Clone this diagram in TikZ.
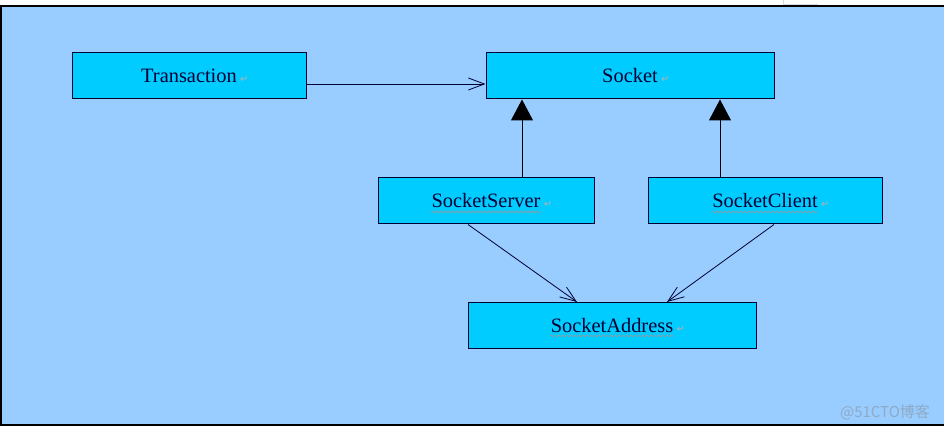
\documentclass[tikz,border=0pt]{standalone}
\usepackage{fontspec}
\setmainfont{Liberation Serif}
\newfontfamily\timesfont{Liberation Serif}[Scale=1.0]
\newfontfamily\symfont{DejaVu Sans}
\newfontfamily\cjkfont{Noto Sans CJK SC}
\usetikzlibrary{arrows.meta,decorations.pathmorphing}

\definecolor{bgblue}{HTML}{99CCFF}
\definecolor{boxcyan}{HTML}{00CCFF}
\definecolor{inkblue}{HTML}{000033}

\newcommand{\retmark}{\rlap{\,\textcolor{gray!60}{\symfont\fontsize{5}{6}\selectfont ↵}}}

\tikzset{
  classbox/.style={draw=inkblue, fill=boxcyan, line width=0.5pt, inner sep=0pt,
    minimum height=23pt, text=inkblue, font=\rmfamily\fontsize{10.2}{12}\selectfont},
  usearrow/.style={draw=inkblue, line width=0.4pt, -{Straight Barb[length=8pt,width=6pt]}},
  inherit/.style={draw=black, line width=0.5pt, -{Triangle[length=10.5pt,width=11pt]}},
  wavy/.style={draw=gray!80, line width=0.35pt, decorate,
    decoration={snake, segment length=2pt, amplitude=0.5pt}}
}

\begin{document}
\begin{tikzpicture}[x=0.5pt,y=-0.5pt]
\useasboundingbox (0,0) rectangle (944,431);
\fill[bgblue] (0,6) rectangle (944,425);
\draw[line width=0.8pt] (944,6) -- (1,6) -- (1,425) -- (944,425);
\draw[gray!30, line width=0.3pt] (783,0) -- (783,4) -- (818,4);

% classes
\node[classbox, minimum width=117pt] (Transaction)   at (189,76)    {Transaction\retmark};
\node[classbox, minimum width=144pt] (Socket)        at (630,76)    {Socket\retmark};
\node[classbox, minimum width=108pt] (SocketServer)  at (486,201)   {SocketServer\retmark};
\node[classbox, minimum width=117pt] (SocketClient)  at (765,201)   {SocketClient\retmark};
\node[classbox, minimum width=144pt] (SocketAddress) at (612,325.5) {SocketAddress\retmark};

% spelling marks
\draw[wavy] ([xshift=-27.5pt,yshift=-5.5pt]SocketServer.center) -- ++(110,0);
\draw[wavy] ([xshift=-26.5pt,yshift=-5.5pt]SocketClient.center) -- ++(106,0);
\draw[wavy] ([xshift=-31pt,yshift=-5.25pt]SocketAddress.center) -- ++(124,0);

% relations
\draw[usearrow] ([yshift=-4pt]Transaction.east) -- ([yshift=-4pt]Socket.west);
\draw[inherit] ([xshift=18pt]SocketServer.north) -- ([xshift=18pt]SocketServer.north |- Socket.south);
\draw[inherit] ([xshift=-22.5pt]SocketClient.north) -- ([xshift=-22.5pt]SocketClient.north |- Socket.south);
\draw[usearrow] ([xshift=-9pt]SocketServer.south) -- ([xshift=-17.5pt]SocketAddress.north);
\draw[usearrow] ([xshift=4.5pt]SocketClient.south) -- ([xshift=27.5pt]SocketAddress.north);

\node[text=gray!45!bgblue, font=\cjkfont\fontsize{7.5}{9}\selectfont] (mark) at (885,412) {@51CTO博客};
\end{tikzpicture}
\end{document}
